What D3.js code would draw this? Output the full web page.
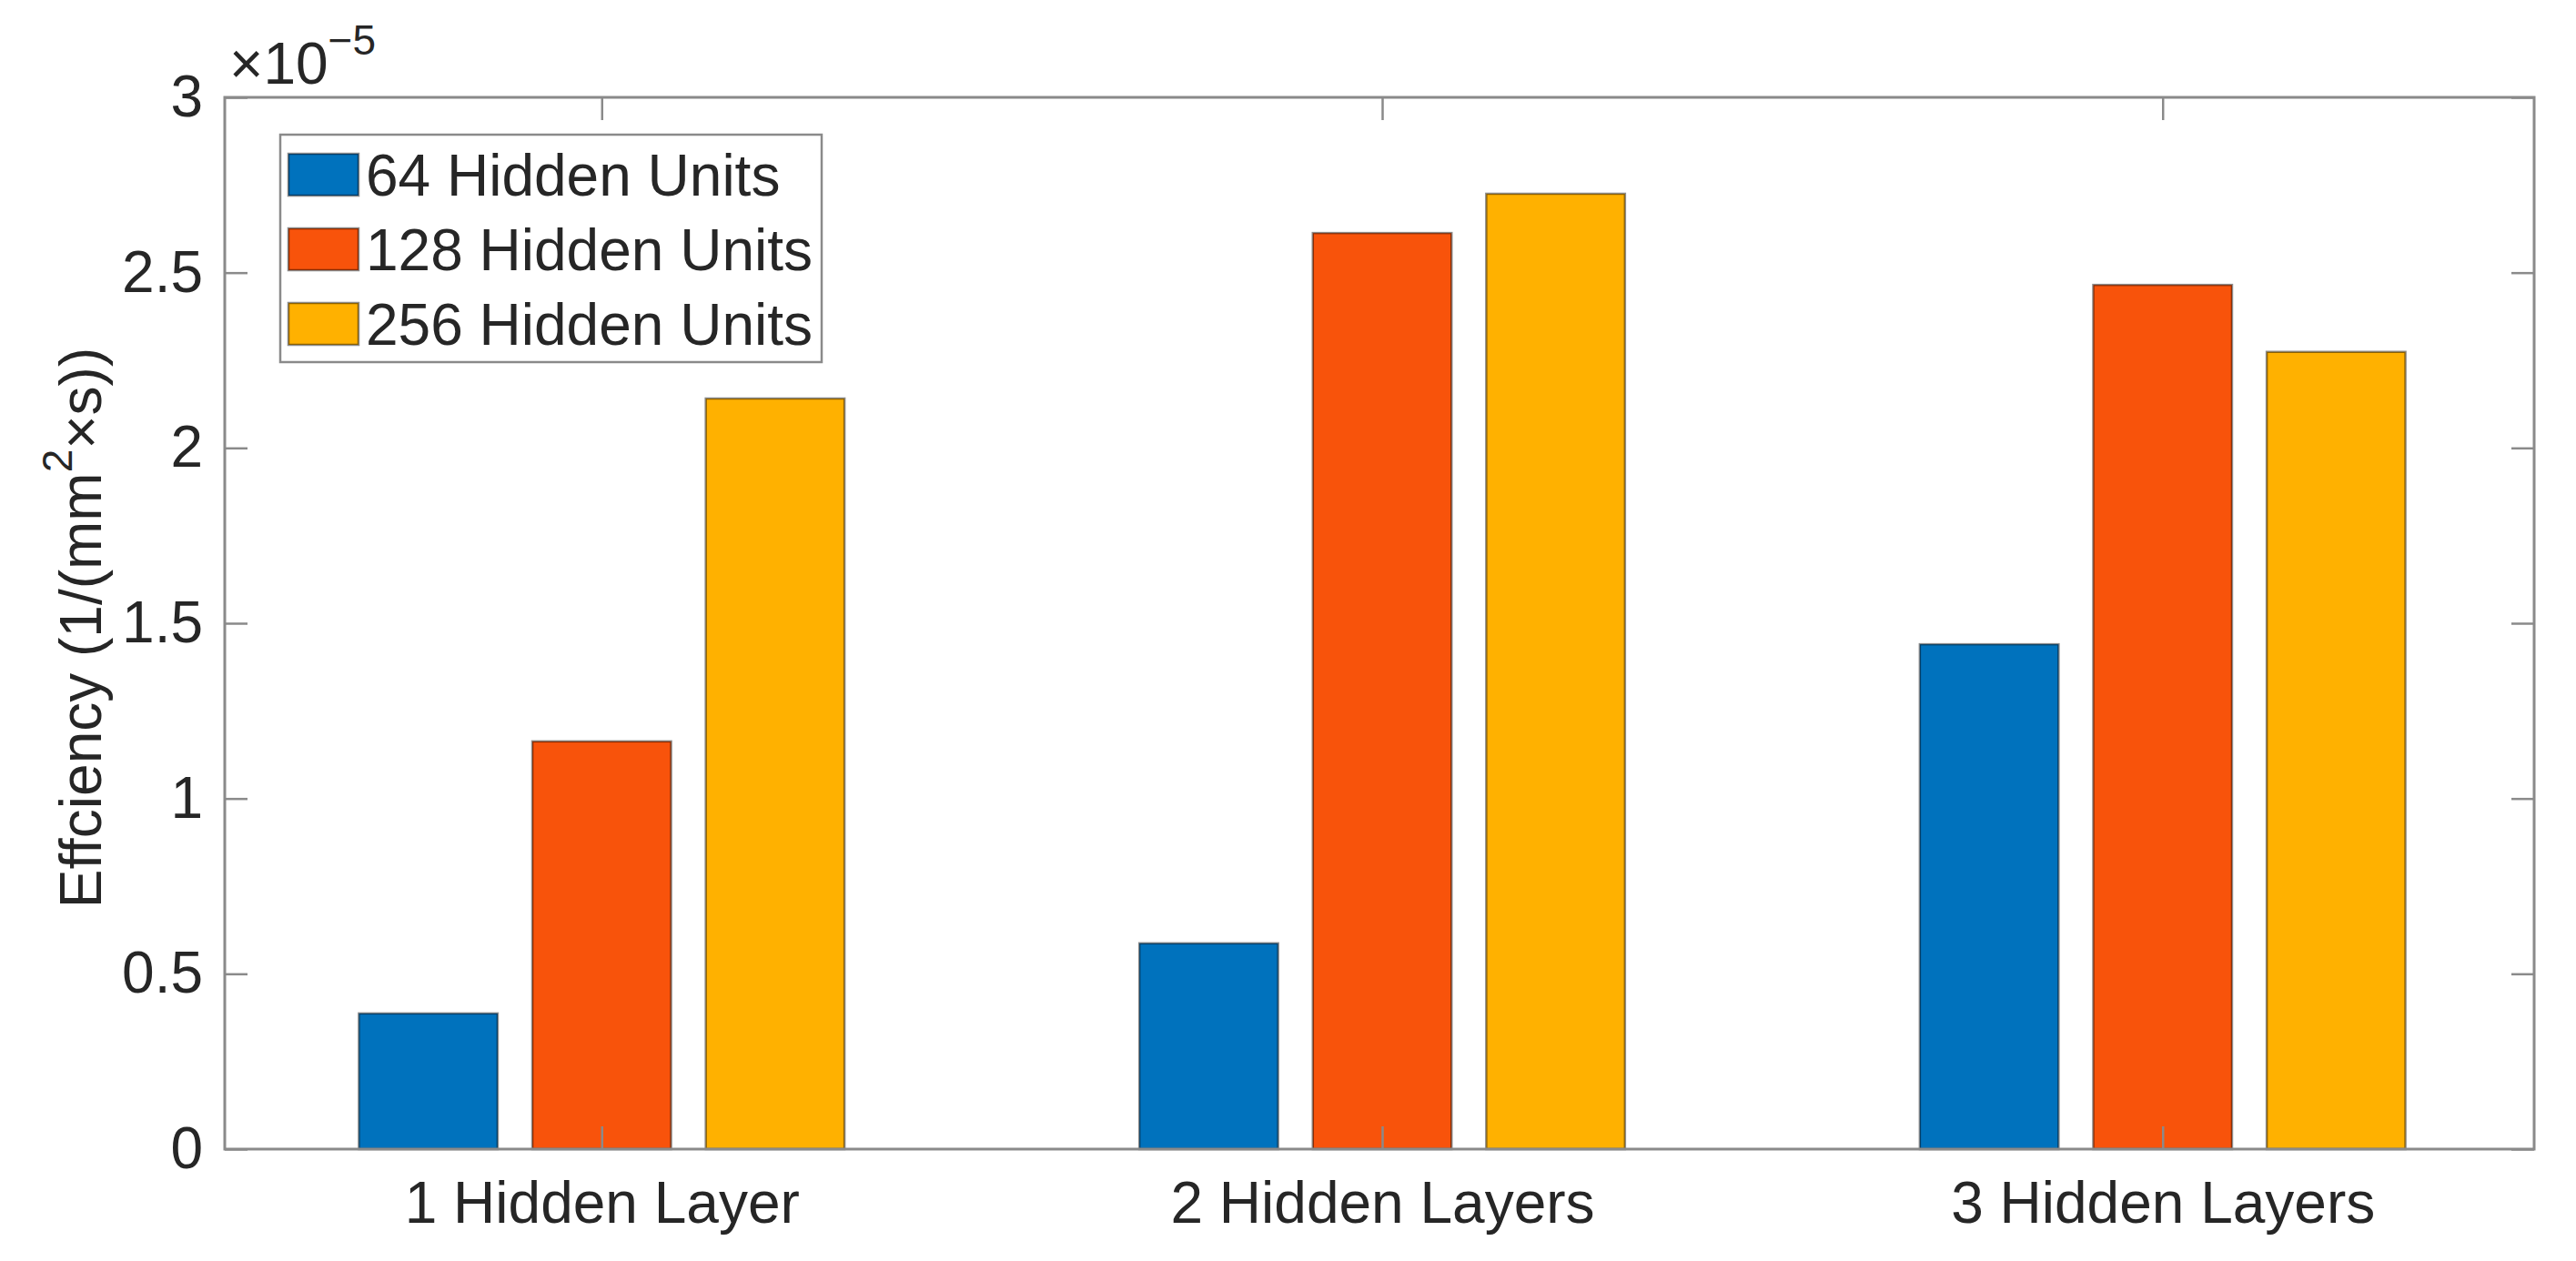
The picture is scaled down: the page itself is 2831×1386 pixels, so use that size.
<!DOCTYPE html>
<html>
<head>
<meta charset="utf-8">
<script src="https://cdn.jsdelivr.net/npm/d3@7"></script>
<style>
  body { margin: 0; background: #fff; }
  text { font-family: 'Liberation Sans', Arial, Helvetica, sans-serif; fill: #262626; }
</style>
</head>
<body>
<div id="chart"></div>
<script>
// Data
const categories = ['1 Hidden Layer', '2 Hidden Layers', '3 Hidden Layers'];
const seriesNames = ['64 Hidden Units', '128 Hidden Units', '256 Hidden Units'];
const units64 = [0.387e-5, 0.587e-5, 1.440e-5];
const units128 = [1.163e-5, 2.613e-5, 2.465e-5];
const units256 = [2.141e-5, 2.725e-5, 2.274e-5];
const yTicks = [0, 0.5e-5, 1e-5, 1.5e-5, 2e-5, 2.5e-5, 3e-5];
const colors = ['#0072bd', '#f8530b', '#ffb100'];

const series = [units64, units128, units256];

// Base positioning
const W = 2831, H = 1386;
const margin = { top: 107, right: 46, bottom: 123, left: 247 };
const width = W - margin.left - margin.right,
  height = H - margin.top - margin.bottom;
const axisColor = '#8a8a8a';
const fontSize = 64;

const svg = d3.select('#chart')
  .append('svg')
  .attr('width', W)
  .attr('height', H)
  .append('g')
  .attr('transform', 'translate(' + margin.left + ',' + margin.top + ')');

// scales
const x = d3.scaleLinear().domain([0.517, 3.476]).range([0, width]);
const y = d3.scaleLinear().domain([0, 3e-5]).range([height, 0]);

// grouped bar layout (matlab style)
const groupWidth = 3 / 4.5;
const barW = 0.8 * groupWidth / 3;
const offset = (j) => -groupWidth / 2 + (2 * j + 1) * groupWidth / 6;

series.forEach((vals, j) => {
  svg.append('g')
    .selectAll('rect')
    .data(vals)
    .enter()
    .append('rect')
    .attr('x', (d, i) => x(i + 1 + offset(j) - barW / 2))
    .attr('width', x(barW) - x(0))
    .attr('y', (d) => y(d))
    .attr('height', (d) => y(0) - y(d))
    .attr('fill', colors[j])
    .attr('stroke', '#000')
    .attr('stroke-opacity', 0.45)
    .attr('stroke-width', 2.5);
});

// axes
const fmt = (d) => String(Math.round(d * 1e6) / 10);
const tickLen = 25;

const styleAxis = (g) => {
  g.select('.domain').remove();
  g.selectAll('.tick line').attr('stroke', axisColor).attr('stroke-width', 2.5);
  g.selectAll('.tick text')
    .style('font-size', fontSize + 'px')
    .style('font-family', "'Liberation Sans', Arial, Helvetica, sans-serif")
    .attr('fill', '#262626');
};

svg.append('g')
  .call(d3.axisLeft(y).tickValues(yTicks).tickFormat(fmt).tickSize(-tickLen).tickPadding(24))
  .call(styleAxis);

svg.append('g')
  .attr('transform', 'translate(' + width + ',0)')
  .call(d3.axisRight(y).tickValues(yTicks).tickFormat('').tickSize(-tickLen))
  .call(styleAxis);

svg.append('g')
  .attr('transform', 'translate(0,' + height + ')')
  .call(d3.axisBottom(x).tickValues([1, 2, 3]).tickFormat((d) => categories[d - 1]).tickSize(-tickLen).tickPadding(36))
  .call(styleAxis);

svg.append('g')
  .call(d3.axisTop(x).tickValues([1, 2, 3]).tickFormat('').tickSize(-tickLen))
  .call(styleAxis);

// frame
svg.append('rect')
  .attr('x', 0)
  .attr('y', 0)
  .attr('width', width)
  .attr('height', height)
  .attr('fill', 'none')
  .attr('stroke', axisColor)
  .attr('stroke-width', 3);

// exponent label
const expo = svg.append('text')
  .attr('x', 252 - margin.left)
  .attr('y', 92 - margin.top)
  .style('font-size', fontSize + 'px');
expo.append('tspan').text('\u00d710');
expo.append('tspan')
  .attr('dy', -32)
  .style('font-size', '46px')
  .text('\u22125');

// y axis label
const ylab = svg.append('text')
  .attr('transform', 'translate(' + (111 - margin.left) + ',' + (690 - margin.top) + ') rotate(-90)')
  .attr('text-anchor', 'middle')
  .style('font-size', fontSize + 'px');
ylab.append('tspan').text('Effciency (1/(mm');
ylab.append('tspan').attr('dy', -32).style('font-size', '46px').text('2');
ylab.append('tspan').attr('dy', 32).text('\u00d7s))');

// legend
const legend = svg.append('g')
  .attr('transform', 'translate(' + (308 - margin.left) + ',' + (148 - margin.top) + ')');
legend.append('rect')
  .attr('width', 595)
  .attr('height', 250)
  .attr('fill', '#fff')
  .attr('stroke', axisColor)
  .attr('stroke-width', 2.5);
const rows = legend.selectAll('g.row')
  .data(seriesNames)
  .enter()
  .append('g')
  .attr('class', 'row')
  .attr('transform', (d, i) => 'translate(0,' + (44 + i * 82) + ')');
rows.append('rect')
  .attr('x', 9)
  .attr('y', -23)
  .attr('width', 77)
  .attr('height', 46)
  .attr('fill', (d, i) => colors[i])
  .attr('stroke', '#000')
  .attr('stroke-opacity', 0.45)
  .attr('stroke-width', 2.5);
rows.append('text')
  .attr('x', 94)
  .attr('y', 23)
  .style('font-size', fontSize + 'px')
  .text((d) => d);
</script>
</body>
</html>
